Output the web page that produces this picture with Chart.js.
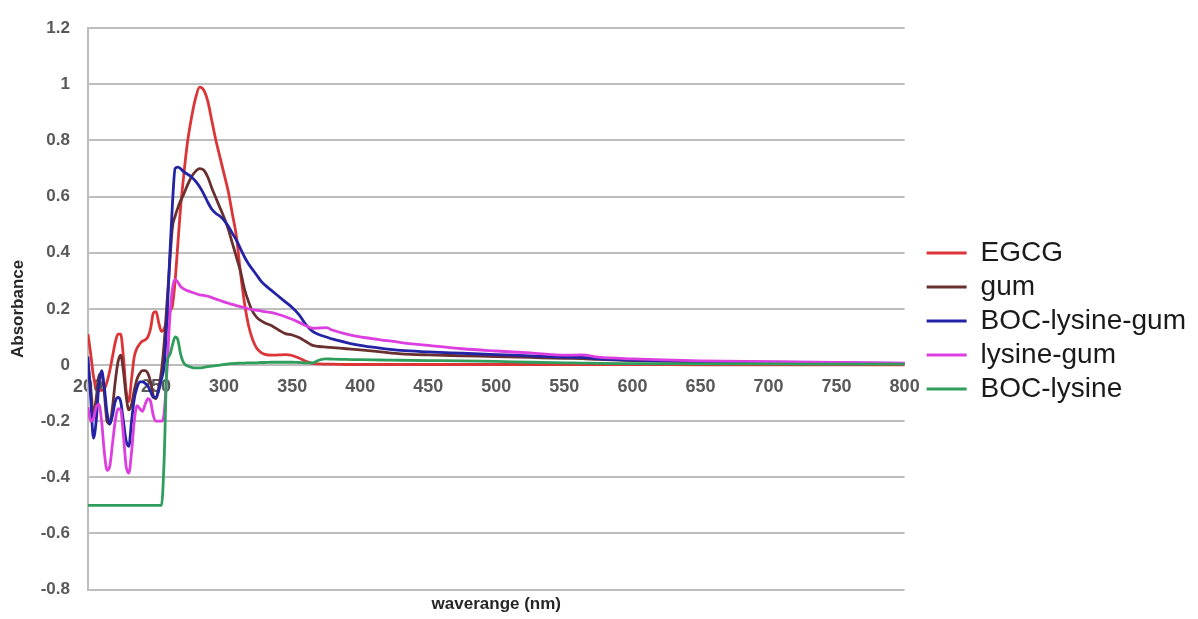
<!DOCTYPE html>
<html>
<head>
<meta charset="utf-8">
<title>Absorbance</title>
<script src="https://cdn.jsdelivr.net/npm/chart.js@4.4.1/dist/chart.umd.min.js"></script>
<style>
    html, body { margin: 0; padding: 0; background: #ffffff; }
    canvas { display: block; }
</style>
</head>
<body>
<canvas id="spectraChart" width="1198" height="619"></canvas>
<script>
    // Comprimentos de onda (nm)
    const wavelengths = [
        200, 202, 204, 206, 208, 210, 212, 214, 216, 218, 220, 222, 224, 226, 228, 230, 232, 234,
        236, 238, 240, 242, 244, 246, 248, 250, 252, 254, 256, 258, 260, 262, 264, 266, 268, 270,
        273, 276, 279, 282, 285, 288, 291, 294, 297, 300, 303, 306, 309, 312, 315, 318, 321, 324,
        327, 330, 335, 340, 345, 350, 355, 360, 365, 370, 375, 380, 390, 400, 415, 430, 450, 475,
        500, 525, 550, 563, 575, 600, 650, 700, 750, 800
    ];

    const egcg = [
        0.11, 0.04, -0.04, -0.08, -0.09, -0.09, -0.085, -0.06, -0.02, 0.03, 0.08, 0.11, 0.11, 0.03, -0.09, -0.13, -0.05, 0.03,
        0.06, 0.075, 0.085, 0.09, 0.10, 0.13, 0.185, 0.19, 0.15, 0.12, 0.13, 0.16, 0.19, 0.21, 0.30, 0.43, 0.56, 0.66,
        0.79, 0.88, 0.95, 0.99, 0.98, 0.94, 0.87, 0.80, 0.74, 0.68, 0.62, 0.54, 0.46, 0.33, 0.22, 0.14, 0.09, 0.06,
        0.045, 0.038, 0.035, 0.036, 0.037, 0.034, 0.025, 0.013, 0.006, 0.004, 0.003, 0.003, 0.002, 0.002, 0.002, 0.002, 0.002, 0.002,
        0.002, 0.002, 0.002, 0.002, 0.002, 0.002, 0.001, 0.001, 0.001, 0.001
    ];

    const gum = [
        0.0, -0.08, -0.18, -0.12, -0.04, -0.03, -0.10, -0.20, -0.21, -0.15, -0.06, 0.01, 0.035, -0.02, -0.11, -0.16, -0.14, -0.09,
        -0.05, -0.03, -0.02, -0.02, -0.03, -0.06, -0.11, -0.12, -0.08, -0.02, 0.08, 0.22, 0.36, 0.49, 0.53, 0.56, 0.585, 0.605,
        0.64, 0.67, 0.69, 0.70, 0.695, 0.67, 0.63, 0.595, 0.56, 0.525, 0.485, 0.435, 0.385, 0.335, 0.27, 0.225, 0.19, 0.17,
        0.158, 0.15, 0.14, 0.125, 0.112, 0.107, 0.098, 0.084, 0.07, 0.066, 0.064, 0.062, 0.058, 0.054, 0.047, 0.04, 0.036, 0.033,
        0.03, 0.027, 0.024, 0.023, 0.02, 0.016, 0.011, 0.009, 0.007, 0.005
    ];

    const bocLysineGum = [
        0.03, -0.12, -0.26, -0.20, -0.07, -0.02, -0.08, -0.17, -0.21, -0.18, -0.13, -0.115, -0.13, -0.20, -0.27, -0.29, -0.20, -0.12,
        -0.08, -0.06, -0.06, -0.065, -0.075, -0.095, -0.115, -0.115, -0.09, -0.05, 0.0, 0.16, 0.38, 0.57, 0.70, 0.705, 0.70, 0.69,
        0.68, 0.67, 0.655, 0.635, 0.61, 0.58, 0.555, 0.54, 0.53, 0.515, 0.495, 0.47, 0.445, 0.415, 0.385, 0.36, 0.34, 0.32,
        0.30, 0.285, 0.265, 0.245, 0.225, 0.205, 0.18, 0.145, 0.12, 0.108, 0.10, 0.092, 0.08, 0.07, 0.06, 0.052, 0.047, 0.042,
        0.037, 0.033, 0.028, 0.027, 0.022, 0.018, 0.012, 0.01, 0.008, 0.006
    ];

    const lysineGum = [
        -0.15, -0.20, -0.19, -0.15, -0.14, -0.20, -0.31, -0.375, -0.36, -0.28, -0.20, -0.155, -0.16, -0.25, -0.36, -0.385, -0.31, -0.20,
        -0.145, -0.155, -0.165, -0.14, -0.12, -0.13, -0.18, -0.20, -0.20, -0.20, -0.17, -0.02, 0.16, 0.27, 0.305, 0.295, 0.28, 0.272,
        0.265, 0.26, 0.255, 0.25, 0.248, 0.245, 0.24, 0.235, 0.23, 0.225, 0.22, 0.216, 0.212, 0.208, 0.205, 0.20, 0.197, 0.195,
        0.193, 0.19, 0.187, 0.18, 0.172, 0.163, 0.152, 0.14, 0.131, 0.132, 0.133, 0.124, 0.11, 0.10, 0.09, 0.08, 0.07, 0.058,
        0.05, 0.043, 0.035, 0.036, 0.028, 0.022, 0.015, 0.012, 0.009, 0.007
    ];

    const bocLysine = [
        -0.5, -0.5, -0.5, -0.5, -0.5, -0.5, -0.5, -0.5, -0.5, -0.5, -0.5, -0.5, -0.5, -0.5, -0.5, -0.5, -0.5, -0.5,
        -0.5, -0.5, -0.5, -0.5, -0.5, -0.5, -0.5, -0.5, -0.5, -0.5, -0.33, 0.0, 0.035, 0.07, 0.10, 0.09, 0.04, 0.01,
        -0.003, -0.008, -0.01, -0.01, -0.008, -0.006, -0.004, -0.002, 0.0, 0.002, 0.004, 0.005, 0.006, 0.007, 0.007, 0.008, 0.008, 0.008,
        0.009, 0.009, 0.01, 0.01, 0.01, 0.01, 0.009, 0.008, 0.008, 0.018, 0.022, 0.021, 0.02, 0.019, 0.018, 0.017, 0.016, 0.015,
        0.013, 0.01, 0.008, 0.007, 0.006, 0.005, 0.004, 0.004, 0.003, 0.003
    ];

    const seriesNames = ['EGCG', 'gum', 'BOC-lysine-gum', 'lysine-gum', 'BOC-lysine'];
    const seriesValues = [egcg, gum, bocLysineGum, lysineGum, bocLysine];
    const seriesColors = ['#dc3538', '#6a3030', '#2323a6', '#dc3ee0', '#2f9e5c'];

    const xTickStep = 50;
    const yTickStep = 0.2;

    document.addEventListener('DOMContentLoaded', function() {
        initSpectraChart();
    });

    // Gráfico de espectros
    function initSpectraChart() {
        const fontFamily = '"Liberation Sans", Arial, Helvetica, sans-serif';

        const datasets = seriesNames.map((name, i) => ({
            label: name,
            data: wavelengths.map((w, j) => ({ x: w, y: seriesValues[i][j] })),
            borderColor: seriesColors[i],
            backgroundColor: seriesColors[i],
            borderWidth: 2.8,
            pointRadius: 0,
            cubicInterpolationMode: 'monotone',
            fill: false,
            order: -i
        }));

        // empurra a legenda um pouco para a direita (como no Excel)
        const legendShift = {
            id: 'legendShift',
            afterLayout(chart) {
                chart.legend.left += 16;
                chart.legend.right += 16;
            }
        };

        const ctx = document.getElementById('spectraChart').getContext('2d');
        new Chart(ctx, {
            type: 'line',
            data: { datasets: datasets },
            options: {
                responsive: false,
                animation: false,
                layout: {
                    padding: { top: 23, right: 18, bottom: 0, left: 0 }
                },
                plugins: {
                    legend: {
                        position: 'right',
                        labels: {
                            boxWidth: 40,
                            boxHeight: 0,
                            padding: 6,
                            color: '#1a1a1a',
                            font: { family: fontFamily, size: 28 },
                            sort: (a, b) => a.datasetIndex - b.datasetIndex
                        }
                    },
                    tooltip: { enabled: false }
                },
                scales: {
                    x: {
                        type: 'linear',
                        position: { y: 0 },
                        min: 200,
                        max: 800,
                        grid: { display: false, drawTicks: false },
                        border: { display: false },
                        ticks: {
                            stepSize: xTickStep,
                            autoSkip: false,
                            maxRotation: 0,
                            padding: 11,
                            color: '#595959',
                            font: { family: fontFamily, size: 18, weight: 'bold' }
                        }
                    },
                    xb: {
                        type: 'linear',
                        position: 'bottom',
                        min: 200,
                        max: 800,
                        grid: { display: false, drawTicks: false },
                        border: { display: false },
                        ticks: { display: false },
                        title: {
                            display: true,
                            text: 'waverange (nm)',
                            color: '#262626',
                            padding: { top: 5, bottom: 4 },
                            font: { family: fontFamily, size: 17, weight: 'bold' }
                        }
                    },
                    y: {
                        min: -0.8,
                        max: 1.2,
                        afterFit: function(scale) {
                            scale.width = 88;
                        },
                        grid: {
                            color: '#bdbdbd',
                            lineWidth: 2,
                            drawTicks: false
                        },
                        border: { display: true, color: '#bdbdbd', width: 2 },
                        ticks: {
                            stepSize: yTickStep,
                            padding: 18,
                            color: '#595959',
                            font: { family: fontFamily, size: 17, weight: 'bold' },
                            callback: function(value) {
                                return String(Math.round(value * 10) / 10);
                            }
                        },
                        title: {
                            display: true,
                            text: 'Absorbance',
                            color: '#262626',
                            padding: { top: 8, bottom: 0 },
                            font: { family: fontFamily, size: 17, weight: 'bold' }
                        }
                    }
                }
            },
            plugins: [legendShift]
        });
    }
</script>
</body>
</html>
